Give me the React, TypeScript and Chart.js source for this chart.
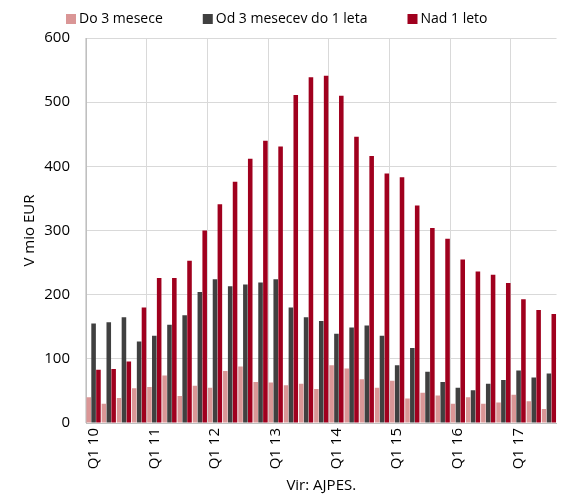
import React, { useEffect, useRef } from 'react';
import { Chart, registerables } from 'chart.js';

Chart.register(...registerables);

const categories = [
  'Q1 10', 'Q2 10', 'Q3 10', 'Q4 10',
  'Q1 11', 'Q2 11', 'Q3 11', 'Q4 11',
  'Q1 12', 'Q2 12', 'Q3 12', 'Q4 12',
  'Q1 13', 'Q2 13', 'Q3 13', 'Q4 13',
  'Q1 14', 'Q2 14', 'Q3 14', 'Q4 14',
  'Q1 15', 'Q2 15', 'Q3 15', 'Q4 15',
  'Q1 16', 'Q2 16', 'Q3 16', 'Q4 16',
  'Q1 17', 'Q2 17', 'Q3 17',
];

const seriesNames = ['Do 3 mesece', 'Od 3 mesecev do 1 leta', 'Nad 1 leto'];

const upTo3Months = [
  40, 30, 39, 54, 56, 74, 42, 58, 55, 81, 88, 64, 63, 59, 61, 53,
  90, 85, 68, 55, 66, 38, 47, 43, 30, 40, 30, 32, 44, 34, 22,
];

const from3MonthsTo1Year = [
  155, 157, 165, 127, 136, 153, 168, 204, 224, 213, 216, 219, 224, 180, 165, 159,
  139, 149, 152, 136, 90, 117, 80, 64, 55, 51, 61, 67, 82, 71, 77,
];

const over1Year = [
  83, 84, 96, 180, 226, 226, 253, 300, 341, 376, 412, 440, 431, 511, 539, 541,
  510, 446, 416, 389, 383, 339, 304, 287, 255, 236, 231, 218, 193, 176, 170,
];

const seriesColors = ['#DA9696', '#404040', '#A0001E'];
const yMin = 0;
const yMax = 600;
const yStep = 100;
const yTitle = 'V mio EUR';
const xTitle = 'Vir: AJPES.';

const FONT = '"Open Sans", Lato, sans-serif';
const FONT_SIZE = 15;
const LEGEND_FONT_SIZE = 14;

export default function App() {
  const canvasRef = useRef<HTMLCanvasElement | null>(null);

  useEffect(() => {
    if (!canvasRef.current) return;
    // Custom top legend (drawn from the datasets' labels and colours)
    const topLegend = {
      id: 'topLegend',
      afterDraw(chart: any) {
        const ctx = chart.ctx;
        const box = 10;
        const textGap = 3;
        const itemGap = 40;
        const yc = 19;
        ctx.save();
        ctx.font = `${LEGEND_FONT_SIZE}px ${FONT}`;
        ctx.textBaseline = 'middle';
        ctx.textAlign = 'left';
        let x = 66;
        chart.data.datasets.forEach((ds: any) => {
          ctx.fillStyle = ds.backgroundColor;
          ctx.fillRect(x, yc - box / 2, box, box);
          ctx.fillStyle = '#000';
          ctx.fillText(ds.label, x + box + textGap, yc);
          x += box + textGap + ctx.measureText(ds.label).width + itemGap;
        });
        ctx.restore();
      },
    };
    const chart = new Chart(canvasRef.current, {
      type: 'bar',
      data: {
        labels: categories,
        datasets: [upTo3Months, from3MonthsTo1Year, over1Year].map((d, i) => ({
          label: seriesNames[i],
          data: d,
          backgroundColor: seriesColors[i],
          borderWidth: 0,
          categoryPercentage: 0.96,
          barPercentage: 0.94,
        })),
      },
      options: {
        animation: false,
        responsive: false,
        maintainAspectRatio: false,
        layout: { padding: { top: 38, right: 4, left: 0, bottom: 0 } },
        plugins: {
          legend: { display: false },
          tooltip: { enabled: false },
        },
        scales: {
          x: {
            offset: true,
            grid: {
              offset: true,
              drawTicks: false,
              color: (ctx: any) => (ctx.index % 4 === 0 ? '#D9D9D9' : 'rgba(0,0,0,0)'),
            },
            border: { color: '#BFBFBF', width: 1 },
            ticks: {
              autoSkip: false,
              maxRotation: 90,
              minRotation: 90,
              padding: 5,
              color: '#000',
              font: { family: FONT, size: FONT_SIZE },
              callback: (_v: any, i: number) => (i % 4 === 0 ? categories[i] : ''),
            },
            title: {
              display: true,
              text: xTitle,
              color: '#000',
              font: { family: FONT, size: FONT_SIZE },
              padding: { top: 0, bottom: 0 },
            },
            afterFit: (scale: any) => {
              scale.height = 72;
            },
          },
          y: {
            min: yMin,
            max: yMax,
            grid: { color: '#D9D9D9', drawTicks: false },
            border: { color: '#BFBFBF', width: 1 },
            ticks: {
              stepSize: yStep,
              padding: 16,
              color: '#000',
              font: { family: FONT, size: FONT_SIZE },
            },
            title: {
              display: true,
              text: yTitle,
              color: '#000',
              font: { family: FONT, size: FONT_SIZE },
              padding: { top: 21, bottom: 0 },
            },
            afterFit: (scale: any) => {
              scale.width = 86;
            },
          },
        },
      },
      plugins: [topLegend],
    });
    return () => chart.destroy();
  }, []);

  return (
    <div style={{ position: 'fixed', left: 0, top: 0, width: 572, height: 495, background: '#fff' }}>
      <canvas ref={canvasRef} width={572} height={495} style={{ display: 'block' }} />
    </div>
  );
}
